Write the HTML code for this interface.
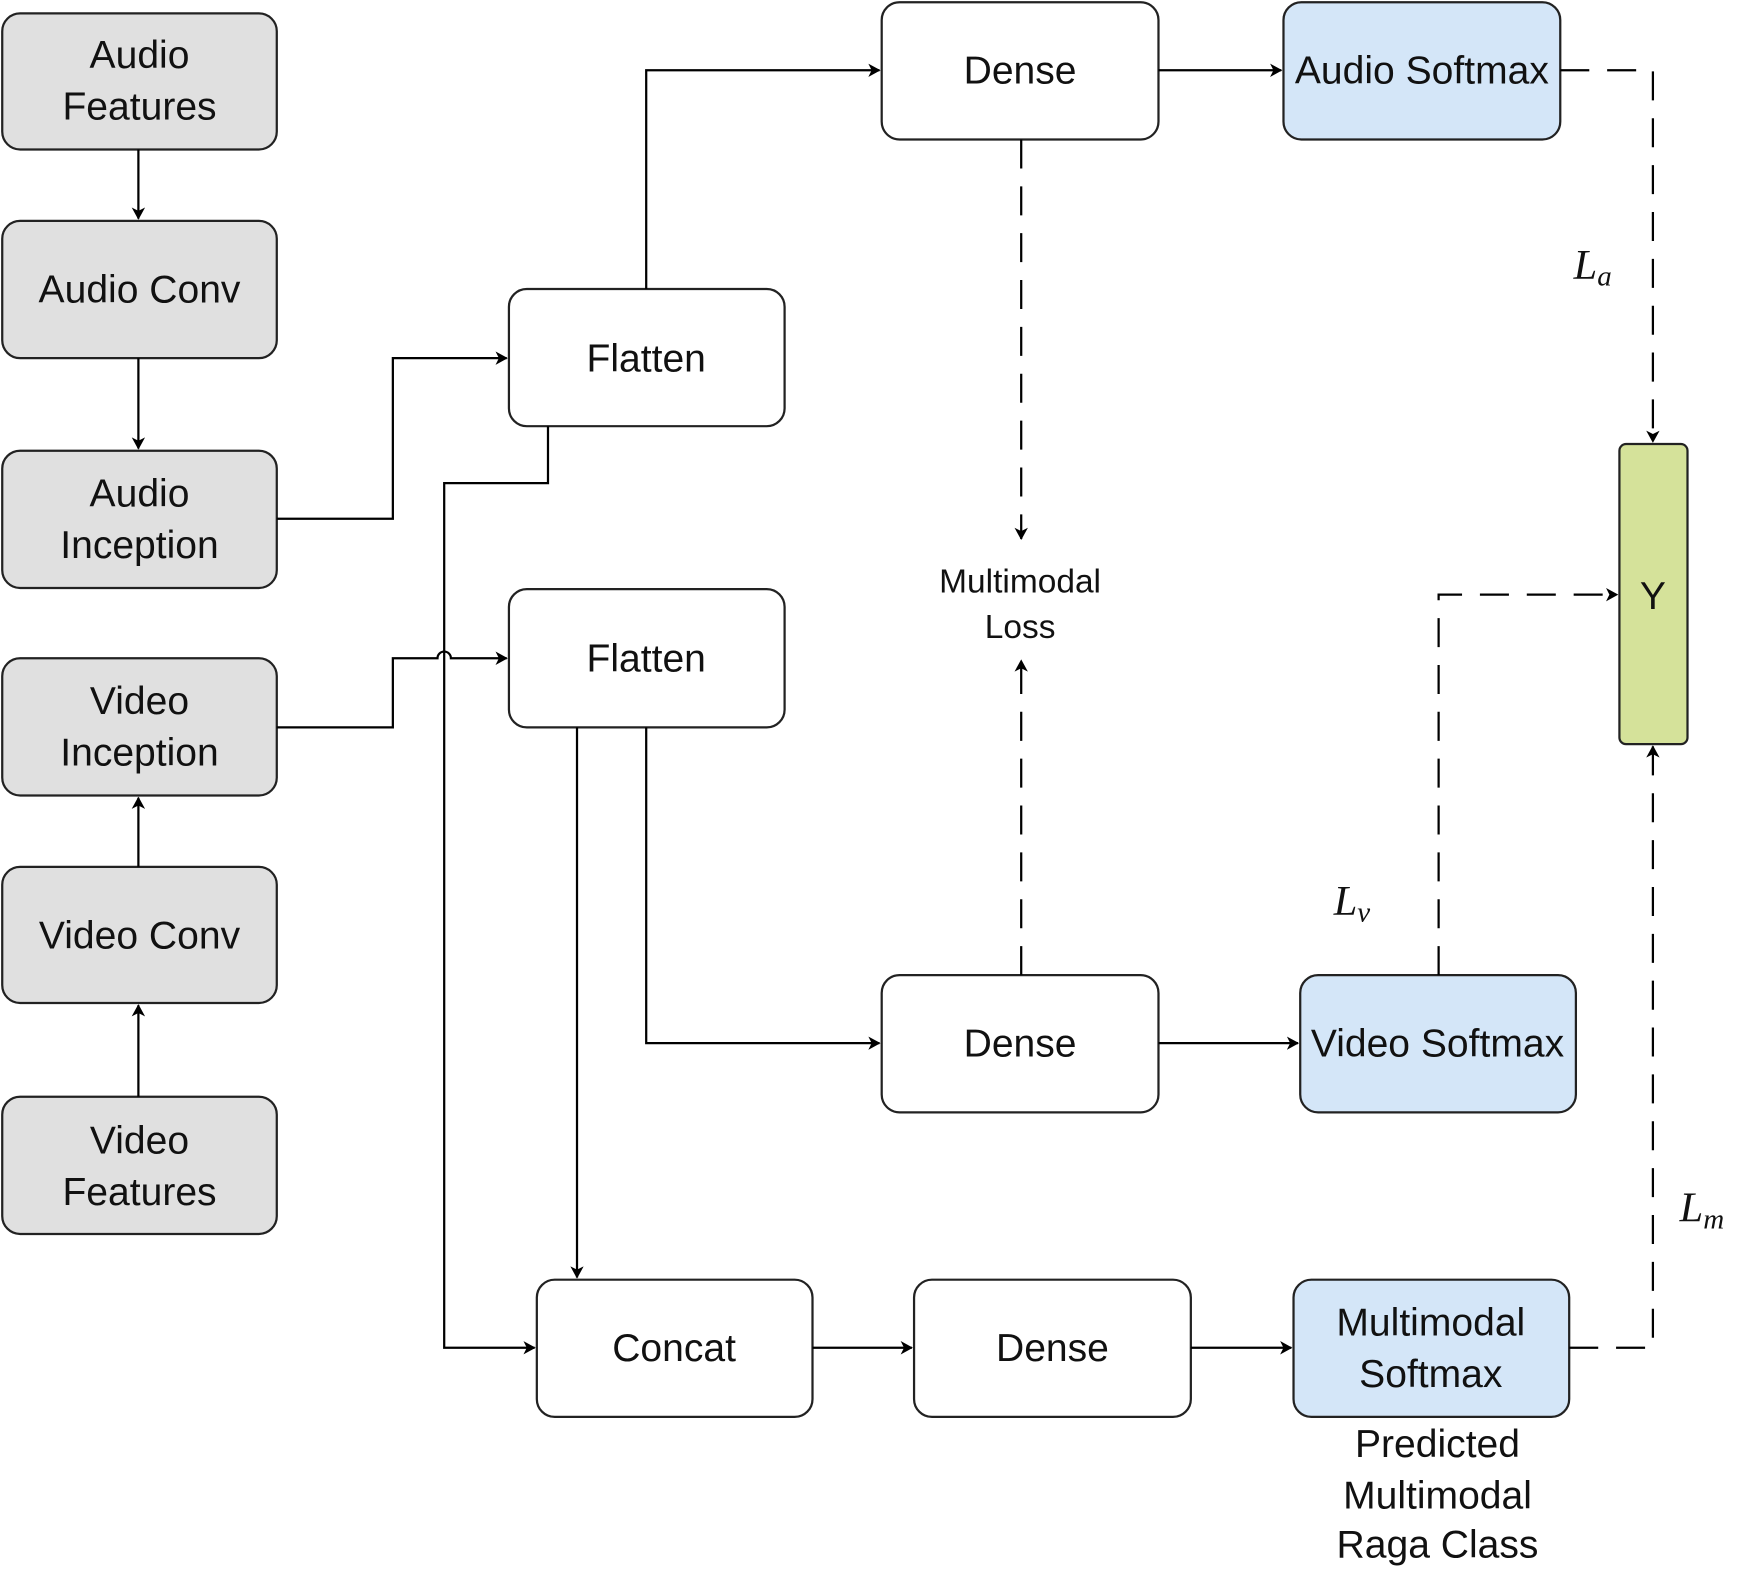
<!DOCTYPE html>
<html><head><meta charset="utf-8"><style>html,body{margin:0;padding:0;background:#fff}svg{display:block}</style></head><body>
<svg width="1750" height="1572" viewBox="0 0 1568 1409" preserveAspectRatio="none" xmlns="http://www.w3.org/2000/svg" font-family="Liberation Sans, sans-serif">
<defs><marker id="a" markerWidth="12" markerHeight="12" refX="10" refY="6" orient="auto" markerUnits="userSpaceOnUse"><path d="M0,0 L11,6 L0,12 L3,6 Z" fill="#000"/></marker></defs>
<g stroke="#222" stroke-width="2">
<rect x="2" y="12" width="246" height="122" rx="16" fill="#e0e0e0"/>
<rect x="2" y="198" width="246" height="123" rx="16" fill="#e0e0e0"/>
<rect x="2" y="404" width="246" height="123" rx="16" fill="#e0e0e0"/>
<rect x="2" y="590" width="246" height="123" rx="16" fill="#e0e0e0"/>
<rect x="2" y="777" width="246" height="122" rx="16" fill="#e0e0e0"/>
<rect x="2" y="983" width="246" height="123" rx="16" fill="#e0e0e0"/>
<rect x="456" y="259" width="247" height="123" rx="16" fill="#fff"/>
<rect x="456" y="528" width="247" height="124" rx="16" fill="#fff"/>
<rect x="790" y="2" width="248" height="123" rx="16" fill="#fff"/>
<rect x="1150" y="2" width="248" height="123" rx="16" fill="#d4e6f8"/>
<rect x="790" y="874" width="248" height="123" rx="16" fill="#fff"/>
<rect x="1165" y="874" width="247" height="123" rx="16" fill="#d4e6f8"/>
<rect x="481" y="1147" width="247" height="123" rx="16" fill="#fff"/>
<rect x="819" y="1147" width="248" height="123" rx="16" fill="#fff"/>
<rect x="1159" y="1147" width="247" height="123" rx="16" fill="#d4e6f8"/>
<rect x="1451" y="398" width="61" height="269" rx="6" fill="#d5e29a"/>
</g>
<g stroke="#000" stroke-width="2" fill="none">
<path d="M124,134 V196" marker-end="url(#a)"/>
<path d="M124,321 V402" marker-end="url(#a)"/>
<path d="M124,983 V901" marker-end="url(#a)"/>
<path d="M124,777 V715" marker-end="url(#a)"/>
<path d="M248,465 H352 V321 H454" marker-end="url(#a)"/>
<path d="M248,652 H352 V590 H392 A6,6 0 0 1 404,590 H454" marker-end="url(#a)"/>
<path d="M491,382 V433 H398 V1208 H479" marker-end="url(#a)"/>
<path d="M579,259 V63 H788" marker-end="url(#a)"/>
<path d="M1038,63 H1148" marker-end="url(#a)"/>
<path d="M517,652 V1145" marker-end="url(#a)"/>
<path d="M579,652 V935 H788" marker-end="url(#a)"/>
<path d="M1038,935 H1163" marker-end="url(#a)"/>
<path d="M728,1208 H817" marker-end="url(#a)"/>
<path d="M1067,1208 H1157" marker-end="url(#a)"/>
</g>
<g stroke="#000" stroke-width="2" fill="none" stroke-dasharray="26,16">
<path d="M1398,63 H1481 V396" marker-end="url(#a)"/>
<path d="M915,125 V483" marker-end="url(#a)"/>
<path d="M915,874 V592" marker-end="url(#a)"/>
<path d="M1289,874 V533 H1449" marker-end="url(#a)"/>
<path d="M1406,1208 H1481 V669" marker-end="url(#a)"/>
</g>
<g font-size="35" fill="#111" text-anchor="middle">
<text x="125" y="61">Audio</text><text x="125" y="107">Features</text>
<text x="125" y="271">Audio Conv</text>
<text x="125" y="454">Audio</text><text x="125" y="500">Inception</text>
<text x="125" y="640">Video</text><text x="125" y="686">Inception</text>
<text x="125" y="850">Video Conv</text>
<text x="125" y="1034">Video</text><text x="125" y="1080">Features</text>
<text x="579" y="333">Flatten</text>
<text x="579" y="602">Flatten</text>
<text x="914" y="75">Dense</text>
<text x="1274" y="75">Audio Softmax</text>
<text x="914" y="947">Dense</text>
<text x="1288" y="947">Video Softmax</text>
<text x="604" y="1220">Concat</text>
<text x="943" y="1220">Dense</text>
<text x="1282" y="1197">Multimodal</text><text x="1282" y="1243">Softmax</text>
<text x="1481" y="546">Y</text>
<text x="1288" y="1306">Predicted</text><text x="1288" y="1352">Multimodal</text><text x="1288" y="1396">Raga Class</text>
<text x="914" y="531" font-size="30">Multimodal</text><text x="914" y="572" font-size="30">Loss</text>
</g>
<g font-family="Liberation Serif, serif" font-style="italic" fill="#111">
<text x="1410" y="250" font-size="38">L<tspan font-size="26" dy="6">a</tspan></text>
<text x="1195" y="820" font-size="38">L<tspan font-size="26" dy="6">v</tspan></text>
<text x="1505" y="1095" font-size="38">L<tspan font-size="26" dy="6">m</tspan></text>
</g>
</svg>
</body></html>
